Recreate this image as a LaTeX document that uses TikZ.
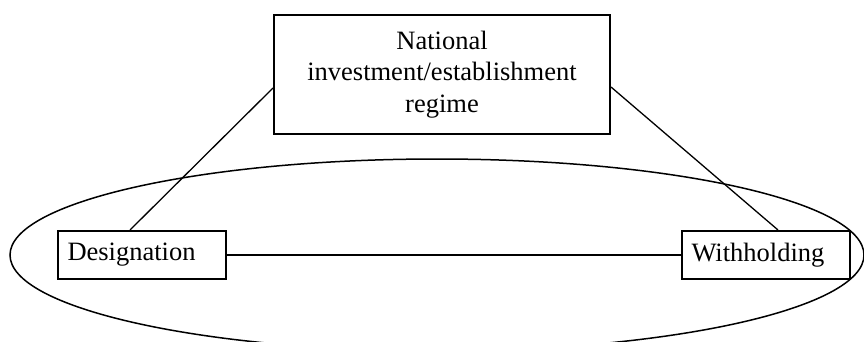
\documentclass[tikz,border=0pt]{standalone}
\usepackage{fontspec}
\setmainfont{Liberation Serif}
\usetikzlibrary{calc}
\tikzstyle{regimeBox} = [rectangle,
                         minimum width=336pt,
                         minimum height=119pt,
                         align=center,
                         draw=black,
                         line width=2pt,
                         font=\fontsize{26.5}{31.5}\selectfont]
\tikzstyle{actBox}    = [rectangle,
                         text width=149pt,
                         inner xsep=9.5pt,
                         minimum height=48pt,
                         align=left,
                         draw=black,
                         line width=2pt,
                         font=\fontsize{26.5}{31.5}\selectfont]
\tikzstyle{link}      = [line width=1.3pt]

\begin{document}
\begin{tikzpicture}[x=1pt, y=-1pt]
\clip (0,0) rectangle (864,342);

\node [regimeBox] (Regime) at (442,74.5) {National\\ investment/establishment\\ regime};

\node [actBox] (Designation) at ([shift={(-300,180.5)}] Regime) {Designation};
\node [actBox] (Withholding) at ([shift={(324,180.5)}] Regime)  {Withholding};

\draw [line width=1.5pt] (437,255) ellipse [x radius=427, y radius=96];

\draw [link] ([yshift=-13.5pt] Regime.west) -- ([xshift=-12pt] Designation.north);
\draw [link] ([yshift=-12.5pt] Regime.east) -- ([xshift=12pt] Withholding.north);
\draw [link] (Designation) -- (Withholding);

\end{tikzpicture}
\end{document}
